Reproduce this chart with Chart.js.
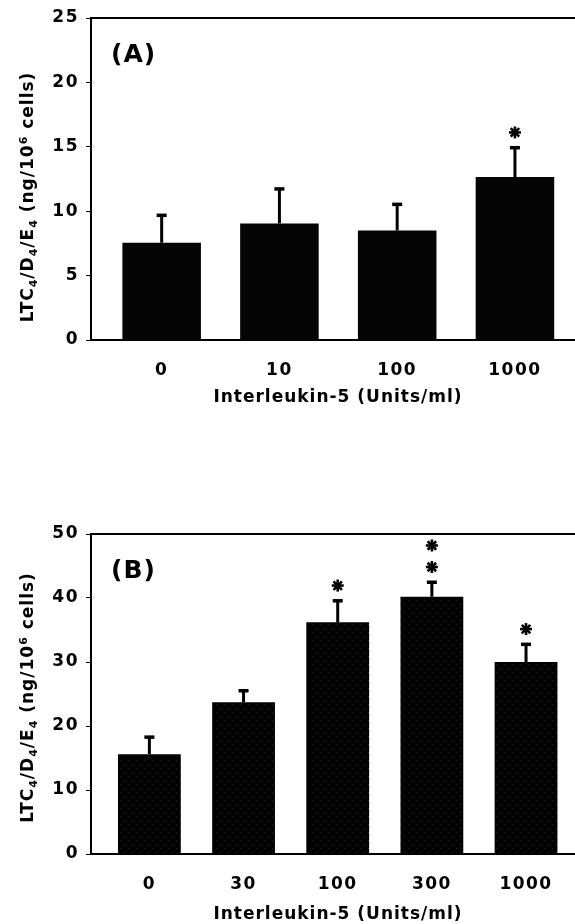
<!DOCTYPE html>
<html>
<head>
<meta charset="utf-8">
<script src="https://cdn.jsdelivr.net/npm/chart.js@4.4.0/dist/chart.umd.min.js"></script>
<style>
body { margin: 0; background: #fff; width: 575px; height: 924px; position: relative; overflow: hidden; }
.panel { position: absolute; left: 0; width: 575px; }
</style>
</head>
<body>
<div class="panel" style="top:0;height:410px"><canvas id="chartA"></canvas></div>
<div class="panel" style="top:480px;height:444px"><canvas id="chartB"></canvas></div>
<script>
// panel A: IL-5 0..1000 U/ml
const dosesA = ['0', '10', '100', '1000']
const meanA = [7.55, 9.05, 8.5, 12.65]
const semA = [2.15, 2.7, 2.05, 2.3]
const starsA = [0, 0, 0, 1]
const yTicksA = [0, 5, 10, 15, 20, 25]

// panel B
const dosesB = ['0', '30', '100', '300', '1000']
const meanB = [15.6, 23.7, 36.2, 40.2, 30.0]
const semB = [2.7, 1.85, 3.4, 2.3, 2.8]
const starsB = [0, 0, 1, 2, 1]
const yTicksB = [0, 10, 20, 30, 40, 50]

const FONT = '"DejaVu Sans", sans-serif'

function drawStar(ctx, x, y, r) {
    ctx.save()
    ctx.lineWidth = 2.6
    for (let a = 0; a < 4; a++) {
        const t = a * Math.PI / 4
        ctx.beginPath()
        ctx.moveTo(x - r * Math.cos(t), y - r * Math.sin(t))
        ctx.lineTo(x + r * Math.cos(t), y + r * Math.sin(t))
        ctx.stroke()
    }
    ctx.beginPath()
    ctx.arc(x, y, r * 0.5, 0, Math.PI * 2)
    ctx.fill()
    ctx.restore()
}

function makePattern() {
    const c = document.createElement('canvas')
    c.width = 8
    c.height = 8
    const g = c.getContext('2d')
    g.fillStyle = '#000'
    g.fillRect(0, 0, 8, 8)
    g.fillStyle = '#2a2a2a'
    g.fillRect(0, 0, 1, 1)
    g.fillRect(4, 4, 1, 1)
    return g.createPattern(c, 'repeat')
}

// sub/superscript parts of the y title
const yTitleParts = [
    {t: 'LTC'}, {t: '4', sub: true}, {t: '/D'}, {t: '4', sub: true}, {t: '/E'}, {t: '4', sub: true},
    {t: ' (ng/10'}, {t: '6', sup: true}, {t: ' cells)'}
]

const extras = {
    id: 'extras',
    beforeDraw(chart) {
        chart.ctx.letterSpacing = '1.5px'
    },
    afterDatasetsDraw(chart) {
        const ctx = chart.ctx
        const ds = chart.data.datasets[0]
        const y = chart.scales.y
        ctx.save()
        ctx.strokeStyle = '#000'
        ctx.fillStyle = '#000'
        chart.getDatasetMeta(0).data.forEach(function(bar, i) {
            const top = y.getPixelForValue(ds.means[i] + ds.sems[i])
            ctx.lineWidth = 3
            ctx.beginPath()
            ctx.moveTo(bar.x, bar.y)
            ctx.lineTo(bar.x, top)
            ctx.stroke()
            ctx.fillRect(bar.x - 5, top - 1.5, 10, 3.5)
            for (let k = 0; k < ds.stars[i]; k++) {
                drawStar(ctx, bar.x, top - 15 - 21.5 * k, 6)
            }
        })
        ctx.restore()
    },
    afterDraw(chart) {
        const ctx = chart.ctx
        const area = chart.chartArea
        const p = chart.config.options.panel
        ctx.save()
        // top frame line
        ctx.strokeStyle = '#000'
        ctx.lineWidth = 2
        ctx.beginPath()
        ctx.moveTo(area.left - 1, area.top)
        ctx.lineTo(area.right, area.top)
        ctx.stroke()

        ctx.fillStyle = '#000'
        // panel letter
        ctx.letterSpacing = '1px'
        ctx.font = 'bold 25px ' + FONT
        ctx.textBaseline = 'middle'
        ctx.textAlign = 'left'
        ctx.fillText(p.label, area.left + 20, area.top + 37.5)

        // x title
        ctx.letterSpacing = '1px'
        ctx.font = 'bold 17px ' + FONT
        ctx.textAlign = 'center'
        ctx.fillText('Interleukin-5 (Units/ml)', (area.left + area.right) / 2 + 5, area.bottom + p.xTitleGap)

        // y title, rotated, with sub/superscripts
        ctx.textAlign = 'left'
        ctx.textBaseline = 'alphabetic'
        const big = 'bold 17px ' + FONT
        const small = 'bold 11px ' + FONT
        let total = 0
        yTitleParts.forEach(function(part) {
            ctx.font = (part.sub || part.sup) ? small : big
            part.w = ctx.measureText(part.t).width
            total += part.w
        })
        ctx.translate(33, (area.top + area.bottom) / 2 + p.yTitleShift)
        ctx.rotate(-Math.PI / 2)
        let x = -total / 2
        yTitleParts.forEach(function(part) {
            ctx.font = (part.sub || part.sup) ? small : big
            const dy = part.sub ? 3.5 : (part.sup ? -6.5 : 0)
            ctx.fillText(part.t, x, dy)
            x += part.w
        })
        ctx.restore()
    }
}

function makePanel(canvasId, doses, means, sems, stars, yTicks, panel) {
    const ctx = document.getElementById(canvasId).getContext('2d')
    return new Chart(ctx, {
        type: 'bar',
        data: {
            datasets: [{
                data: means.map((v, i) => ({x: i, y: v})),
                means: means,
                sems: sems,
                stars: stars,
                backgroundColor: panel.fill,
                borderWidth: 0,
                categoryPercentage: 1,
                barPercentage: 0.667
            }]
        },
        plugins: [extras],
        options: {
            panel: panel,
            animation: false,
            responsive: true,
            maintainAspectRatio: false,
            layout: {padding: {top: panel.padTop, left: 0, right: 0, bottom: 0}},
            plugins: {legend: {display: false}, tooltip: {enabled: false}},
            scales: {
                x: {
                    type: 'linear',
                    offset: false,
                    min: panel.xMin,
                    max: panel.xMax,
                    afterBuildTicks: function(scale) {
                        scale.ticks = doses.map((d, i) => ({value: i}))
                    },
                    afterFit: function(scale) { scale.height = 70 },
                    ticks: {
                        callback: (v) => doses[v],
                        color: '#000',
                        padding: 20,
                        maxRotation: 0,
                        font: {family: FONT, size: 17, weight: 'bold'}
                    },
                    grid: {display: false, drawTicks: false},
                    border: {display: true, color: '#000', width: 2}
                },
                y: {
                    min: 0,
                    max: yTicks[yTicks.length - 1],
                    afterBuildTicks: function(scale) {
                        scale.ticks = yTicks.map(v => ({value: v}))
                    },
                    afterFit: function(scale) { scale.width = 91 },
                    ticks: {
                        color: '#000',
                        padding: 7,
                        font: {family: FONT, size: 17, weight: 'bold'}
                    },
                    grid: {drawOnChartArea: false, drawTicks: true, tickLength: 5, color: '#000', lineWidth: 1},
                    border: {display: true, color: '#000', width: 2}
                }
            }
        }
    })
}

makePanel('chartA', dosesA, meanA, semA, starsA, yTicksA, {
    label: '(A)', fill: '#050505', padTop: 18, xMin: -0.6, xMax: 3.51,
    xTitleGap: 57.5, yTitleShift: 18
})
makePanel('chartB', dosesB, meanB, semB, starsB, yTicksB, {
    label: '(B)', fill: makePattern(), padTop: 54, xMin: -0.62, xMax: 4.52,
    xTitleGap: 61, yTitleShift: 3.5
})
</script>
</body>
</html>
